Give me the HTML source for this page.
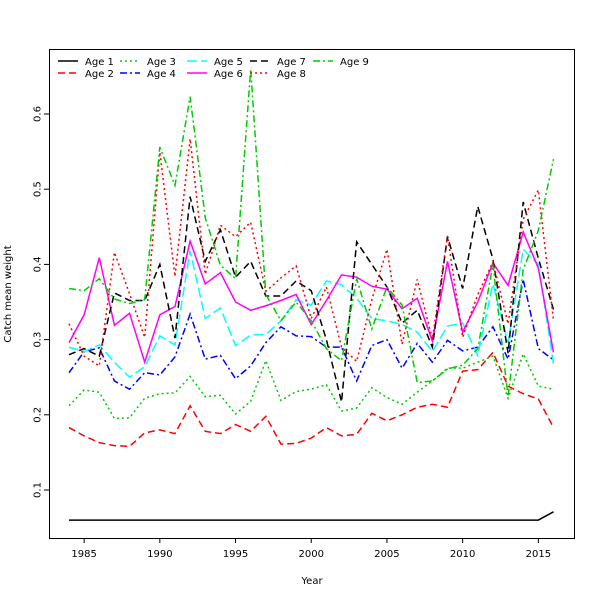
<!DOCTYPE html><html><head><style>body{margin:0;background:#fff}svg text{font-family:"DejaVu Sans","Liberation Sans",sans-serif;font-size:10px}</style></head><body>
<svg id="s" width="600" height="600" xmlns="http://www.w3.org/2000/svg">
<rect x="0" y="0" width="600" height="600" fill="#fff"/>
<rect x="49.5" y="49.5" width="525" height="489" fill="none" stroke="#000" stroke-width="1"/>
<g id="g"></g>
<text x="312" y="584" text-anchor="middle">Year</text>
<text transform="translate(11,294) rotate(-90)" text-anchor="middle">Catch mean weight</text>
</svg>
<script>
const ns="http://www.w3.org/2000/svg",g=document.getElementById('g');
function el(t,a,txt){const e=document.createElementNS(ns,t);for(const k in a)e.setAttribute(k,a[k]);if(txt)e.textContent=txt;g.appendChild(e);return e;}
const X=y=>69+(y-1984)*15.14, Y=v=>490-(v-0.1)*752;
for(let yr=1985;yr<=2015;yr+=5){const x=X(yr);el('line',{x1:x,x2:x,y1:538,y2:543,stroke:'#000'});el('text',{x:x,y:557,'text-anchor':'middle'},String(yr));}
[0.1,0.2,0.3,0.4,0.5,0.6].forEach(v=>{const y=Y(v);el('line',{x1:44,x2:49,y1:y,y2:y,stroke:'#000'});el('text',{x:38,y:y,'text-anchor':'middle',transform:`rotate(-90 38 ${y})`,'dominant-baseline':'central'},v.toFixed(1));});
const D={
1:Array(32).fill(0.06).concat([0.071]),
2:[.183,.172,.163,.159,.158,.176,.180,.175,.212,.178,.175,.187,.178,.198,.161,.162,.169,.183,.172,.174,.202,.192,.200,.210,.214,.210,.258,.260,.283,.238,.228,.221,.183],
3:[.212,.233,.230,.195,.196,.222,.228,.229,.251,.224,.226,.201,.218,.272,.219,.231,.234,.240,.205,.209,.236,.223,.214,.230,.245,.262,.262,.270,.278,.222,.281,.238,.234],
4:[.256,.284,.289,.245,.234,.256,.253,.277,.334,.274,.279,.248,.265,.296,.317,.305,.304,.290,.290,.245,.292,.300,.262,.295,.270,.299,.285,.290,.317,.274,.380,.288,.273],
5:[.290,.284,.293,.270,.250,.264,.305,.293,.418,.328,.342,.292,.306,.307,.325,.353,.346,.378,.373,.355,.328,.325,.320,.310,.284,.318,.322,.279,.374,.296,.420,.400,.268],
6:[.296,.333,.409,.319,.335,.270,.333,.344,.431,.374,.389,.350,.339,.345,.352,.360,.320,.352,.386,.383,.371,.367,.341,.355,.298,.404,.310,.350,.402,.372,.443,.395,.283],
7:[.280,.288,.278,.362,.352,.352,.400,.302,.490,.404,.446,.383,.404,.358,.358,.378,.365,.300,.217,.430,.400,.370,.322,.339,.290,.437,.368,.477,.407,.282,.483,.408,.340],
8:[.321,.278,.265,.416,.361,.303,.549,.384,.567,.387,.452,.437,.456,.364,.382,.398,.328,.370,.290,.271,.353,.420,.294,.380,.301,.438,.303,.360,.403,.321,.460,.499,.326],
9:[.368,.365,.381,.354,.348,.353,.556,.505,.623,.462,.399,.381,.660,.360,.325,.350,.325,.288,.272,.381,.314,.370,.346,.243,.245,.261,.266,.288,.400,.224,.393,.445,.540]};
const S={1:['#000',''],2:['#f00','7,4'],3:['#0c0','2,3'],4:['#00f','7,3,2,3'],5:['#0ff','10,4'],6:['#f0f',''],7:['#000','7,4'],8:['#f00','2,3'],9:['#0c0','7,3,2,3']};
for(const k in D){el('polyline',{points:D[k].map((v,i)=>X(1984+i)+','+Y(v)).join(' '),fill:'none',stroke:S[k][0],'stroke-width':1.5,'stroke-dasharray':S[k][1]});}
const cols=[58,120,187,250,313];
for(let k=1;k<=9;k++){const c=Math.floor((k-1)/2),r=(k-1)%2,x=cols[c],y=61+r*12;
el('line',{x1:x,x2:x+20,y1:y,y2:y,stroke:S[k][0],'stroke-width':1.5,'stroke-dasharray':S[k][1]});
el('text',{x:x+27,y:y+4},'Age '+k);}
</script></body></html>
